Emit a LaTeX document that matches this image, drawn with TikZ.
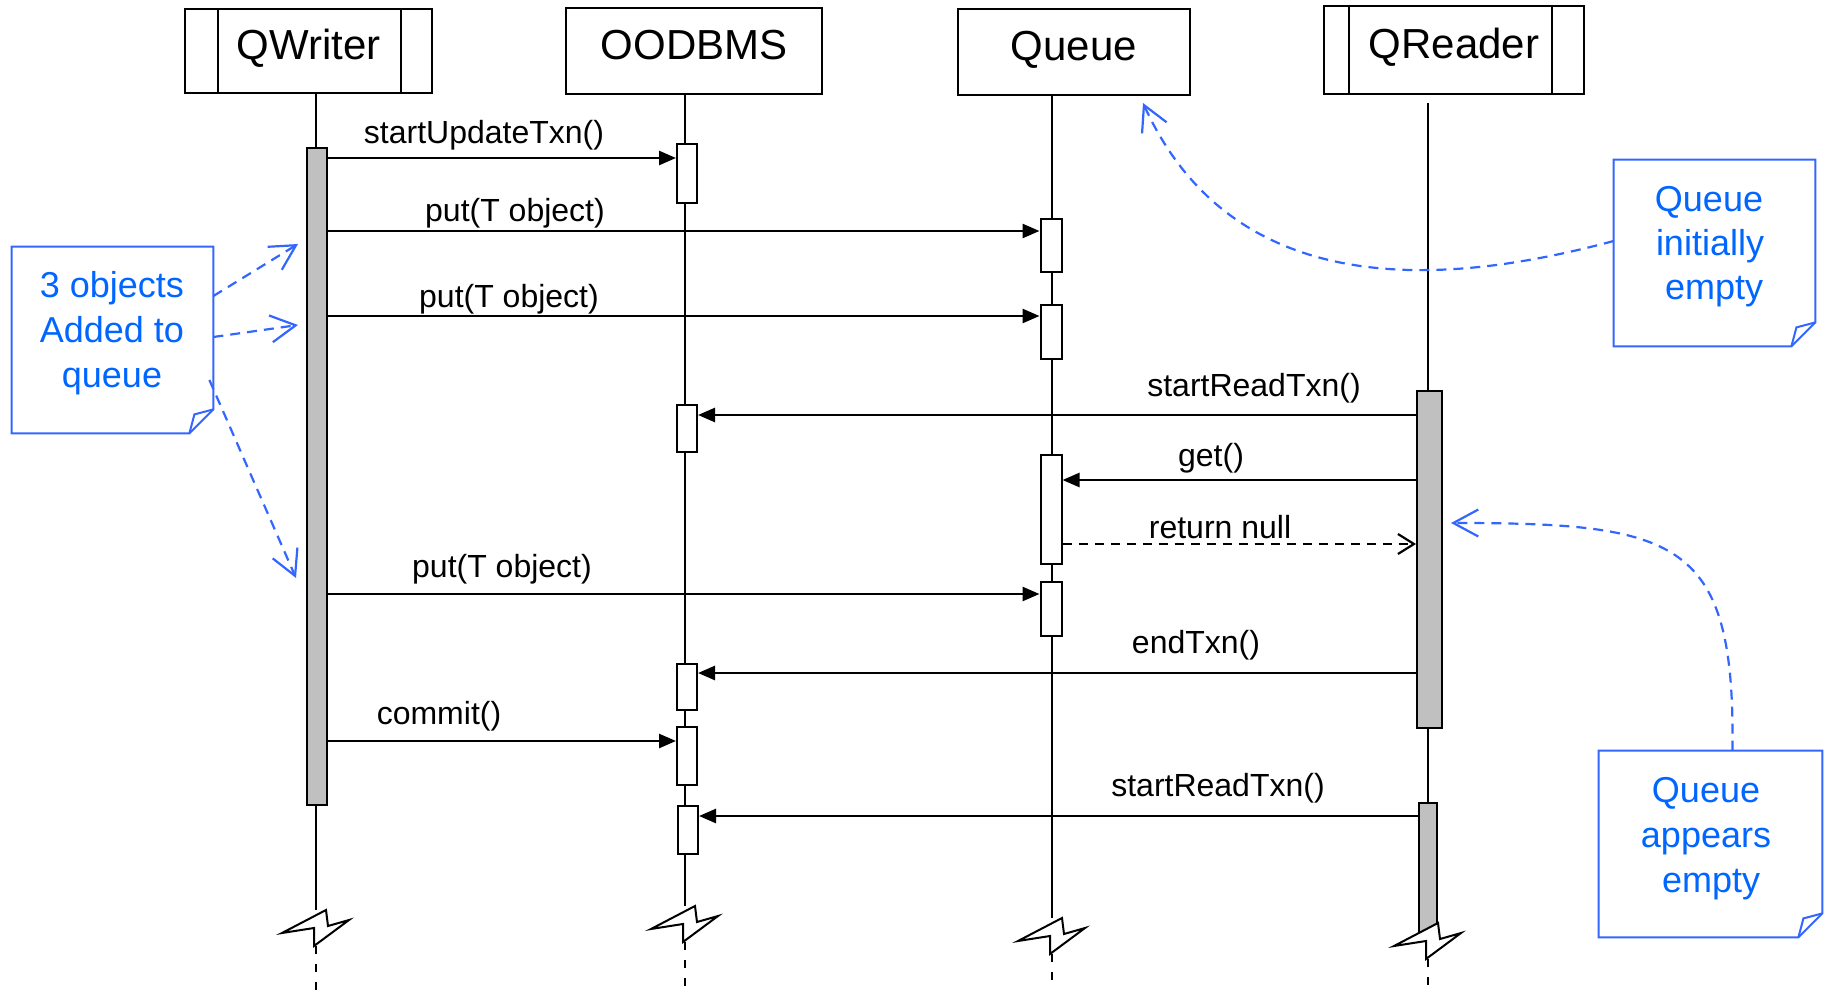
\documentclass[tikz,border=0pt]{standalone}
\usepackage{fontspec}
\setmainfont{Liberation Sans}
\usetikzlibrary{arrows.meta}
\definecolor{notetext}{RGB}{0,102,255}
\definecolor{noteline}{RGB}{51,102,255}
\definecolor{actgray}{RGB}{192,192,192}
\tikzset{
  hdr/.style={draw, line width=1pt, fill=white, font=\fontsize{21}{25}\selectfont, text height=15pt, text depth=6pt, inner sep=0pt},
  life/.style={line width=0.7pt},
  lifedash/.style={line width=0.7pt, dash pattern=on 4pt off 5pt},
  act/.style={draw, line width=1pt, fill=white, inner sep=0pt, minimum width=10pt},
  gact/.style={act, fill=actgray},
  msg/.style={line width=1.3pt, -{Triangle[length=8.5pt,width=7pt]}},
  ret/.style={line width=1.1pt, dash pattern=on 4.5pt off 3.5pt, -{Straight Barb[length=8pt,width=10pt]}},
  lbl/.style={font=\fontsize{16}{19}\selectfont, anchor=base, inner sep=0pt},
  notetxt/.style={font=\fontsize{18}{22}\selectfont, text=notetext, anchor=base, inner sep=0pt},
  notebox/.style={inner sep=0pt, minimum height=93pt},
  noteframe/.style={draw=noteline, line width=1pt, line join=miter},
  notearrow/.style={draw=noteline, line width=1.1pt, dash pattern=on 5pt off 3.5pt, -{Straight Barb[length=12.5pt,width=13.5pt]}},
  bolt/.pic={\draw[line width=1pt, fill=white, line join=miter] (-34,5) -- (10,-18) -- (12,-2) -- (33,-8) -- (-2,18) -- (-2,0) -- cycle;}
}
\newcommand{\drawnote}[1]{%
  \draw[noteframe] (#1.north west) -- (#1.north east) -- ([yshift=12pt]#1.south east) -- ([xshift=-12pt]#1.south east) -- (#1.south west) -- cycle;
  \draw[noteframe] ([yshift=12pt]#1.south east) -- ([xshift=-9.5pt,yshift=9.5pt]#1.south east) -- ([xshift=-12pt]#1.south east);
}
\begin{document}
\begin{tikzpicture}[x=0.5pt,y=-0.5pt]
\useasboundingbox (0,0) rectangle (1826,990);
\fill[white] (0,0) rectangle (1826,990);

% headers
\node[hdr, minimum width=123.5pt, minimum height=42pt] (qw) at (308.5,51) {QWriter};
\draw[line width=1pt] ([xshift=17pt]qw.north west) -- ([xshift=17pt]qw.south west);
\draw[line width=1pt] ([xshift=-16pt]qw.north east) -- ([xshift=-16pt]qw.south east);
\node[hdr, minimum width=128pt, minimum height=43pt] (db) at (694,51) {OODBMS};
\node[hdr, minimum width=116pt, minimum height=43pt] (qu) at (1074,52) {Queue};
\node[hdr, minimum width=130pt, minimum height=44pt] (qr) at (1454,50) {QReader};
\draw[line width=1pt] ([xshift=13pt]qr.north west) -- ([xshift=13pt]qr.south west);
\draw[line width=1pt] ([xshift=-16.5pt]qr.north east) -- ([xshift=-16.5pt]qr.south east);

% bolt positions and levels
\coordinate (bqw) at (316,928);
\coordinate (bdb) at (685,924);
\coordinate (bqu) at (1052,936);
\coordinate (bqr) at (1428,941);
\coordinate (ybot) at (0,990);

% lifelines
\draw[life] (qw.south -| bqw) -- ([yshift=9pt]bqw);
\draw[life] (db.south -| bdb) -- ([yshift=9pt]bdb);
\draw[life] (qu.south -| bqu) -- ([yshift=9pt]bqu);
\draw[life] ([yshift=-4pt]qr.south -| bqr) -- ([yshift=9pt]bqr);
\draw[lifedash] ([yshift=-9pt]bqw) -- (bqw |- ybot);
\draw[lifedash] ([yshift=-9pt]bdb) -- (bdb |- ybot);
\draw[lifedash] ([yshift=-9pt]bqu) -- (bqu |- ybot);
\draw[lifedash] ([yshift=-9pt]bqr) -- (bqr |- ybot);

% activations
\node[gact, minimum height=328.5pt] (qwA) at (317,476.5) {};
\node[act, minimum height=29.5pt] (db1) at (687,173.5) {};
\node[act, minimum height=23.5pt] (db2) at (687,428.5) {};
\node[act, minimum height=23pt] (db3) at (687,687) {};
\node[act, minimum height=29pt] (db4) at (687,756) {};
\node[act, minimum height=24pt] (db5) at (688,830) {};
\node[act, minimum width=10.5pt, minimum height=26.5pt] (q1) at (1051,245.5) {};
\node[act, minimum width=10.5pt, minimum height=27pt] (q2) at (1051,332) {};
\node[act, minimum width=10.5pt, minimum height=54.5pt] (q3) at (1051,509.5) {};
\node[act, minimum width=10.5pt, minimum height=27pt] (q4) at (1051,609) {};
\node[gact, minimum width=12.5pt, minimum height=168.5pt] (qrA) at (1429.5,559.5) {};
\node[gact, minimum width=9pt, minimum height=66pt] (qrB) at (1428,869) {};

% bolts
\pic at (bqw) {bolt};
\pic at (bdb) {bolt};
\pic at (bqu) {bolt};
\pic at (bqr) {bolt};

% message levels
\coordinate (y1) at (0,158);
\coordinate (y2) at (0,231);
\coordinate (y3) at (0,316);
\coordinate (y4) at (0,415);
\coordinate (y5) at (0,480);
\coordinate (y6) at (0,544);
\coordinate (y7) at (0,594);
\coordinate (y8) at (0,673);
\coordinate (y9) at (0,741);
\coordinate (y10) at (0,816);

\draw[msg] (qwA.east |- y1) -- (db1.west |- y1);
\node[lbl] (l1) at (484,144) {startUpdateTxn()};
\draw[msg] (qwA.east |- y2) -- (q1.west |- y2);
\node[lbl] (l2) at (515,221) {put(T object)};
\draw[msg] (qwA.east |- y3) -- (q2.west |- y3);
\node[lbl] (l3) at (509,307) {put(T object)};
\draw[msg] (qrA.west |- y4) -- (db2.east |- y4);
\node[lbl] (l4) at (1254,396) {startReadTxn()};
\draw[msg] (qrA.west |- y5) -- (q3.east |- y5);
\node[lbl] (l5) at (1211,466) {get()};
\draw[ret] (q3.east |- y6) -- (qrA.west |- y6);
\node[lbl] (l6) at (1220,538) {return null};
\draw[msg] (qwA.east |- y7) -- (q4.west |- y7);
\node[lbl] (l7) at (502,577) {put(T object)};
\draw[msg] (qrA.west |- y8) -- (db3.east |- y8);
\node[lbl] (l8) at (1196,653) {endTxn()};
\draw[msg] (qwA.east |- y9) -- (db4.west |- y9);
\node[lbl] (l9) at (439,724) {commit()};
\draw[msg] (qrB.west |- y10) -- (db5.east |- y10);
\node[lbl] (l10) at (1218,796) {startReadTxn()};

% notes
\node[notebox, minimum width=100.5pt] (n1) at (112.5,340) {};
\drawnote{n1}
\node[notetxt] (n1a) at (112,297) {3 objects};
\node[notetxt] (n1b) at (112,342) {Added to};
\node[notetxt] (n1c) at (112,387) {queue};

\node[notebox, minimum width=100.5pt] (n2) at (1714.5,253) {};
\drawnote{n2}
\node[notetxt] (n2a) at (1709,211) {Queue};
\node[notetxt] (n2b) at (1710,255) {initially};
\node[notetxt] (n2c) at (1714,299) {empty};

\node[notebox, minimum width=111.5pt] (n3) at (1710.5,844) {};
\drawnote{n3}
\node[notetxt] (n3a) at (1706,802) {Queue};
\node[notetxt] (n3b) at (1706,847) {appears};
\node[notetxt] (n3c) at (1711,892) {empty};

% note arrows
\coordinate (na1) at (0,296);
\coordinate (ta1) at (0,244);
\coordinate (na2) at (0,337);
\coordinate (ta2) at (0,325);
\coordinate (na3) at (0,380);
\coordinate (ta3) at (0,578);
\coordinate (nb) at (0,241);
\coordinate (tc) at (0,523);
\draw[notearrow] (n1.east |- na1) -- ([xshift=-4pt]qwA.west |- ta1);
\draw[notearrow] (n1.east |- na2) -- ([xshift=-4pt]qwA.west |- ta2);
\draw[notearrow] ([xshift=-2pt]n1.east |- na3) -- ([xshift=-5pt]qwA.west |- ta3);
\draw[notearrow] (n2.west |- nb) .. controls (1450,285) and (1235,305) .. ([xshift=-24pt,yshift=-3.5pt]qu.south east);
\draw[notearrow] ([xshift=11pt]n3.north) .. controls (1735,540) and (1680,523) .. ([xshift=4pt]qrA.east |- tc);
\end{tikzpicture}
\end{document}
